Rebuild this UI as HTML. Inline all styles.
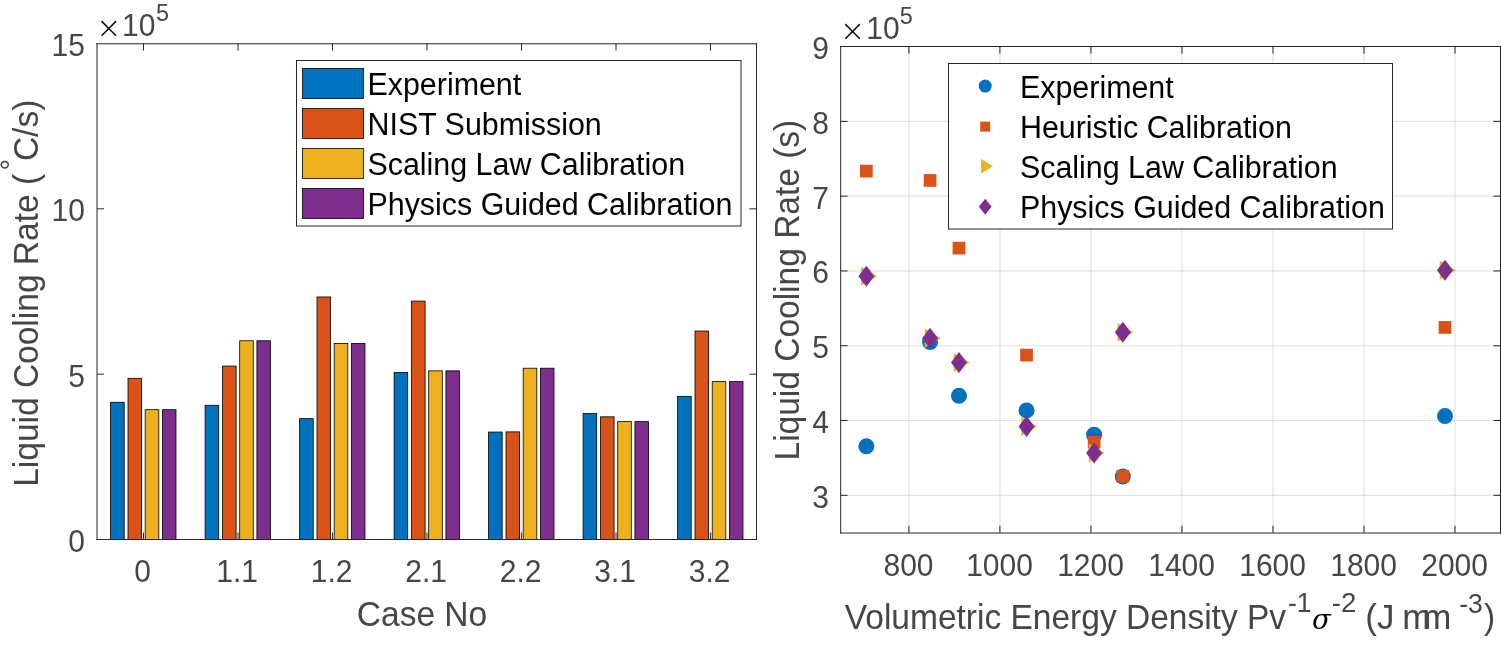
<!DOCTYPE html>
<html><head><meta charset="utf-8"><title>Liquid Cooling Rate</title>
<style>html,body{margin:0;padding:0;background:#fff;}body{width:1501px;height:645px;position:relative;overflow:hidden;}</style>
</head><body>
<svg width="1501" height="645" viewBox="0 0 1501 645" style="position:absolute;left:0;top:0">
<rect x="0" y="0" width="1501" height="645" fill="#fff"/>
<g id="left-bars">
<rect x="110.60" y="402.27" width="13.60" height="137.23" fill="#0072BD" stroke="#000" stroke-width="0.8"/>
<rect x="128.00" y="378.30" width="13.60" height="161.20" fill="#D95319" stroke="#000" stroke-width="0.8"/>
<rect x="145.20" y="409.71" width="13.60" height="129.79" fill="#EDB120" stroke="#000" stroke-width="0.8"/>
<rect x="162.40" y="409.71" width="13.60" height="129.79" fill="#7E2F8E" stroke="#000" stroke-width="0.8"/>
<rect x="205.10" y="405.25" width="13.60" height="134.25" fill="#0072BD" stroke="#000" stroke-width="0.8"/>
<rect x="222.50" y="366.07" width="13.60" height="173.43" fill="#D95319" stroke="#000" stroke-width="0.8"/>
<rect x="239.70" y="340.77" width="13.60" height="198.73" fill="#EDB120" stroke="#000" stroke-width="0.8"/>
<rect x="256.90" y="340.77" width="13.60" height="198.73" fill="#7E2F8E" stroke="#000" stroke-width="0.8"/>
<rect x="299.60" y="418.64" width="13.60" height="120.86" fill="#0072BD" stroke="#000" stroke-width="0.8"/>
<rect x="317.00" y="296.96" width="13.60" height="242.54" fill="#D95319" stroke="#000" stroke-width="0.8"/>
<rect x="334.20" y="343.41" width="13.60" height="196.09" fill="#EDB120" stroke="#000" stroke-width="0.8"/>
<rect x="351.40" y="343.41" width="13.60" height="196.09" fill="#7E2F8E" stroke="#000" stroke-width="0.8"/>
<rect x="394.10" y="372.51" width="13.60" height="166.99" fill="#0072BD" stroke="#000" stroke-width="0.8"/>
<rect x="411.50" y="301.09" width="13.60" height="238.41" fill="#D95319" stroke="#000" stroke-width="0.8"/>
<rect x="428.70" y="370.86" width="13.60" height="168.64" fill="#EDB120" stroke="#000" stroke-width="0.8"/>
<rect x="445.90" y="370.86" width="13.60" height="168.64" fill="#7E2F8E" stroke="#000" stroke-width="0.8"/>
<rect x="488.60" y="432.03" width="13.60" height="107.47" fill="#0072BD" stroke="#000" stroke-width="0.8"/>
<rect x="506.00" y="431.87" width="13.60" height="107.63" fill="#D95319" stroke="#000" stroke-width="0.8"/>
<rect x="523.20" y="368.21" width="13.60" height="171.29" fill="#EDB120" stroke="#000" stroke-width="0.8"/>
<rect x="540.40" y="368.21" width="13.60" height="171.29" fill="#7E2F8E" stroke="#000" stroke-width="0.8"/>
<rect x="583.10" y="413.52" width="13.60" height="125.98" fill="#0072BD" stroke="#000" stroke-width="0.8"/>
<rect x="600.50" y="416.82" width="13.60" height="122.68" fill="#D95319" stroke="#000" stroke-width="0.8"/>
<rect x="617.70" y="421.62" width="13.60" height="117.88" fill="#EDB120" stroke="#000" stroke-width="0.8"/>
<rect x="634.90" y="421.62" width="13.60" height="117.88" fill="#7E2F8E" stroke="#000" stroke-width="0.8"/>
<rect x="677.60" y="396.32" width="13.60" height="143.18" fill="#0072BD" stroke="#000" stroke-width="0.8"/>
<rect x="695.00" y="331.01" width="13.60" height="208.49" fill="#D95319" stroke="#000" stroke-width="0.8"/>
<rect x="712.20" y="381.61" width="13.60" height="157.89" fill="#EDB120" stroke="#000" stroke-width="0.8"/>
<rect x="729.40" y="381.61" width="13.60" height="157.89" fill="#7E2F8E" stroke="#000" stroke-width="0.8"/>
</g>
<g stroke="#262626" stroke-width="1">
<line x1="143.5" y1="539.5" x2="143.5" y2="532.5"/><line x1="143.5" y1="43.5" x2="143.5" y2="50.5"/>
<line x1="238.0" y1="539.5" x2="238.0" y2="532.5"/><line x1="238.0" y1="43.5" x2="238.0" y2="50.5"/>
<line x1="332.5" y1="539.5" x2="332.5" y2="532.5"/><line x1="332.5" y1="43.5" x2="332.5" y2="50.5"/>
<line x1="427.0" y1="539.5" x2="427.0" y2="532.5"/><line x1="427.0" y1="43.5" x2="427.0" y2="50.5"/>
<line x1="521.5" y1="539.5" x2="521.5" y2="532.5"/><line x1="521.5" y1="43.5" x2="521.5" y2="50.5"/>
<line x1="616.0" y1="539.5" x2="616.0" y2="532.5"/><line x1="616.0" y1="43.5" x2="616.0" y2="50.5"/>
<line x1="710.5" y1="539.5" x2="710.5" y2="532.5"/><line x1="710.5" y1="43.5" x2="710.5" y2="50.5"/>
<line x1="97.0" y1="374.17" x2="104.0" y2="374.17"/><line x1="756.5" y1="374.17" x2="749.5" y2="374.17"/>
<line x1="97.0" y1="208.83" x2="104.0" y2="208.83"/><line x1="756.5" y1="208.83" x2="749.5" y2="208.83"/>
</g>
<path d="M97.0 43.8H756.5M97.0 539.5H756.5M97.0 43.5V539.5M756.5 43.5V539.5" stroke="#262626" stroke-width="1" stroke-linecap="square" fill="none"/>
<g font-family="'Liberation Sans', Arial, Helvetica, sans-serif" fill="#464646">
<text x="85" y="551.8" text-anchor="end" font-size="31.26" textLength="16.69" lengthAdjust="spacingAndGlyphs">0</text>
<text x="85" y="386.5" text-anchor="end" font-size="31.26" textLength="16.69" lengthAdjust="spacingAndGlyphs">5</text>
<text x="85" y="221.1" text-anchor="end" font-size="31.26" textLength="33.38" lengthAdjust="spacingAndGlyphs">10</text>
<text x="85" y="55.8" text-anchor="end" font-size="31.26" textLength="33.38" lengthAdjust="spacingAndGlyphs">15</text>
<text x="142.7" y="581.5" text-anchor="middle" font-size="31.26" textLength="16.69" lengthAdjust="spacingAndGlyphs">0</text>
<text x="237.2" y="581.5" text-anchor="middle" font-size="31.26" textLength="41.72" lengthAdjust="spacingAndGlyphs">1.1</text>
<text x="331.7" y="581.5" text-anchor="middle" font-size="31.26" textLength="41.72" lengthAdjust="spacingAndGlyphs">1.2</text>
<text x="426.2" y="581.5" text-anchor="middle" font-size="31.26" textLength="41.72" lengthAdjust="spacingAndGlyphs">2.1</text>
<text x="520.7" y="581.5" text-anchor="middle" font-size="31.26" textLength="41.72" lengthAdjust="spacingAndGlyphs">2.2</text>
<text x="615.2" y="581.5" text-anchor="middle" font-size="31.26" textLength="41.72" lengthAdjust="spacingAndGlyphs">3.1</text>
<text x="709.7" y="581.5" text-anchor="middle" font-size="31.26" textLength="41.72" lengthAdjust="spacingAndGlyphs">3.2</text>
</g>
<text x="96.15" y="37.95" font-family="'DejaVu Sans', 'Liberation Sans', Arial, Helvetica, sans-serif" font-weight="200" font-size="30" fill="#000">×</text>
<text x="122.1" y="35.8" font-family="'Liberation Sans', Arial, Helvetica, sans-serif" fill="#464646" font-size="31.26" textLength="33.38" lengthAdjust="spacingAndGlyphs">10</text>
<text x="156" y="21.2" font-family="'Liberation Sans', Arial, Helvetica, sans-serif" fill="#464646" font-size="24.49" textLength="13.08" lengthAdjust="spacingAndGlyphs">5</text>
<text x="422" y="626" text-anchor="middle" font-family="'Liberation Sans', Arial, Helvetica, sans-serif" fill="#464646" font-size="34.91" textLength="130.34" lengthAdjust="spacingAndGlyphs">Case No</text>
<text transform="translate(38.3,483.8) rotate(-90)" font-family="'Liberation Sans', Arial, Helvetica, sans-serif" fill="#464646" font-size="34.91"><tspan x="-3" font-size="34.91" textLength="312.86" lengthAdjust="spacingAndGlyphs">Liquid Cooling Rate (</tspan><tspan x="313.3" dy="-17" font-size="29">°</tspan><tspan x="322.7" dy="17" font-size="34.91" textLength="61.41" lengthAdjust="spacingAndGlyphs">C/s)</tspan></text>
<rect x="296.5" y="60.5" width="444.5" height="165.5" fill="#fff" stroke="#262626" stroke-width="1"/>
<rect x="302.5" y="68.5" width="61" height="30" fill="#0072BD" stroke="#000" stroke-width="0.8"/>
<text x="367.5" y="94.6" font-family="'Liberation Sans', Arial, Helvetica, sans-serif" fill="#000" font-size="31.68" textLength="153.72" lengthAdjust="spacingAndGlyphs">Experiment</text>
<rect x="302.5" y="108.5" width="61" height="30" fill="#D95319" stroke="#000" stroke-width="0.8"/>
<text x="367.5" y="134.6" font-family="'Liberation Sans', Arial, Helvetica, sans-serif" fill="#000" font-size="31.68" textLength="234.22" lengthAdjust="spacingAndGlyphs">NIST Submission</text>
<rect x="302.5" y="148.5" width="61" height="30" fill="#EDB120" stroke="#000" stroke-width="0.8"/>
<text x="367.5" y="174.6" font-family="'Liberation Sans', Arial, Helvetica, sans-serif" fill="#000" font-size="31.68" textLength="317.59" lengthAdjust="spacingAndGlyphs">Scaling Law Calibration</text>
<rect x="302.5" y="188.5" width="61" height="30" fill="#7E2F8E" stroke="#000" stroke-width="0.8"/>
<text x="367.5" y="214.6" font-family="'Liberation Sans', Arial, Helvetica, sans-serif" fill="#000" font-size="31.68" textLength="364.88" lengthAdjust="spacingAndGlyphs">Physics Guided Calibration</text>
<g stroke="#262626" stroke-opacity="0.125" stroke-width="1.2">
<line x1="908.91" y1="46.6" x2="908.91" y2="532.7"/>
<line x1="999.92" y1="46.6" x2="999.92" y2="532.7"/>
<line x1="1090.94" y1="46.6" x2="1090.94" y2="532.7"/>
<line x1="1181.95" y1="46.6" x2="1181.95" y2="532.7"/>
<line x1="1272.97" y1="46.6" x2="1272.97" y2="532.7"/>
<line x1="1363.98" y1="46.6" x2="1363.98" y2="532.7"/>
<line x1="1454.99" y1="46.6" x2="1454.99" y2="532.7"/>
<line x1="840.65" y1="495.31" x2="1500.5" y2="495.31"/>
<line x1="840.65" y1="420.52" x2="1500.5" y2="420.52"/>
<line x1="840.65" y1="345.74" x2="1500.5" y2="345.74"/>
<line x1="840.65" y1="270.95" x2="1500.5" y2="270.95"/>
<line x1="840.65" y1="196.17" x2="1500.5" y2="196.17"/>
<line x1="840.65" y1="121.38" x2="1500.5" y2="121.38"/>
</g>
<g id="right-data">
<circle cx="866.36" cy="446.32" r="8.00" fill="#0072BD"/>
<circle cx="930.07" cy="342.00" r="8.00" fill="#0072BD"/>
<circle cx="958.97" cy="395.84" r="8.00" fill="#0072BD"/>
<circle cx="1026.55" cy="410.43" r="8.00" fill="#0072BD"/>
<circle cx="1094.12" cy="434.73" r="8.00" fill="#0072BD"/>
<circle cx="1122.79" cy="476.61" r="8.00" fill="#0072BD"/>
<circle cx="1444.98" cy="416.04" r="8.00" fill="#0072BD"/>
<rect x="860.01" y="164.77" width="12.70" height="12.70" fill="#D95319"/>
<rect x="923.72" y="174.11" width="12.70" height="12.70" fill="#D95319"/>
<rect x="952.62" y="241.79" width="12.70" height="12.70" fill="#D95319"/>
<rect x="1020.20" y="348.74" width="12.70" height="12.70" fill="#D95319"/>
<rect x="1087.77" y="435.86" width="12.70" height="12.70" fill="#D95319"/>
<rect x="1116.44" y="469.89" width="12.70" height="12.70" fill="#D95319"/>
<rect x="1438.63" y="321.07" width="12.70" height="12.70" fill="#D95319"/>
<polygon points="861.06,266.79 876.96,276.19 861.06,285.59" fill="#EDB120"/>
<polygon points="924.77,328.86 940.67,338.26 924.77,347.66" fill="#EDB120"/>
<polygon points="953.67,353.17 969.57,362.57 953.67,371.97" fill="#EDB120"/>
<polygon points="1021.25,417.11 1037.15,426.51 1021.25,435.91" fill="#EDB120"/>
<polygon points="1088.82,443.65 1104.72,453.05 1088.82,462.45" fill="#EDB120"/>
<polygon points="1117.49,322.88 1133.39,332.28 1117.49,341.68" fill="#EDB120"/>
<polygon points="1439.68,260.81 1455.58,270.21 1439.68,279.61" fill="#EDB120"/>
<polygon points="866.36,265.69 874.36,276.19 866.36,286.69 858.36,276.19" fill="#7E2F8E"/>
<polygon points="930.07,327.76 938.07,338.26 930.07,348.76 922.07,338.26" fill="#7E2F8E"/>
<polygon points="958.97,352.07 966.97,362.57 958.97,373.07 950.97,362.57" fill="#7E2F8E"/>
<polygon points="1026.55,416.01 1034.55,426.51 1026.55,437.01 1018.55,426.51" fill="#7E2F8E"/>
<polygon points="1094.12,442.55 1102.12,453.05 1094.12,463.55 1086.12,453.05" fill="#7E2F8E"/>
<polygon points="1122.79,321.78 1130.79,332.28 1122.79,342.78 1114.79,332.28" fill="#7E2F8E"/>
<polygon points="1444.98,259.71 1452.98,270.21 1444.98,280.71 1436.98,270.21" fill="#7E2F8E"/>
</g>
<g stroke="#262626" stroke-width="1">
<line x1="908.91" y1="532.7" x2="908.91" y2="525.7"/><line x1="908.91" y1="46.6" x2="908.91" y2="53.6"/>
<line x1="999.92" y1="532.7" x2="999.92" y2="525.7"/><line x1="999.92" y1="46.6" x2="999.92" y2="53.6"/>
<line x1="1090.94" y1="532.7" x2="1090.94" y2="525.7"/><line x1="1090.94" y1="46.6" x2="1090.94" y2="53.6"/>
<line x1="1181.95" y1="532.7" x2="1181.95" y2="525.7"/><line x1="1181.95" y1="46.6" x2="1181.95" y2="53.6"/>
<line x1="1272.97" y1="532.7" x2="1272.97" y2="525.7"/><line x1="1272.97" y1="46.6" x2="1272.97" y2="53.6"/>
<line x1="1363.98" y1="532.7" x2="1363.98" y2="525.7"/><line x1="1363.98" y1="46.6" x2="1363.98" y2="53.6"/>
<line x1="1454.99" y1="532.7" x2="1454.99" y2="525.7"/><line x1="1454.99" y1="46.6" x2="1454.99" y2="53.6"/>
<line x1="840.65" y1="495.31" x2="847.65" y2="495.31"/><line x1="1500.5" y1="495.31" x2="1493.5" y2="495.31"/>
<line x1="840.65" y1="420.52" x2="847.65" y2="420.52"/><line x1="1500.5" y1="420.52" x2="1493.5" y2="420.52"/>
<line x1="840.65" y1="345.74" x2="847.65" y2="345.74"/><line x1="1500.5" y1="345.74" x2="1493.5" y2="345.74"/>
<line x1="840.65" y1="270.95" x2="847.65" y2="270.95"/><line x1="1500.5" y1="270.95" x2="1493.5" y2="270.95"/>
<line x1="840.65" y1="196.17" x2="847.65" y2="196.17"/><line x1="1500.5" y1="196.17" x2="1493.5" y2="196.17"/>
<line x1="840.65" y1="121.38" x2="847.65" y2="121.38"/><line x1="1500.5" y1="121.38" x2="1493.5" y2="121.38"/>
</g>
<path d="M840.7 46.5H1500.5M840.7 533.0H1500.5M840.7 46.5V533.0M1500.5 46.5V533.0" stroke="#262626" stroke-width="1" stroke-linecap="square" fill="none"/>
<g font-family="'Liberation Sans', Arial, Helvetica, sans-serif" fill="#464646">
<text x="829" y="507.6" text-anchor="end" font-size="31.26" textLength="16.69" lengthAdjust="spacingAndGlyphs">3</text>
<text x="829" y="432.8" text-anchor="end" font-size="31.26" textLength="16.69" lengthAdjust="spacingAndGlyphs">4</text>
<text x="829" y="358.0" text-anchor="end" font-size="31.26" textLength="16.69" lengthAdjust="spacingAndGlyphs">5</text>
<text x="829" y="283.3" text-anchor="end" font-size="31.26" textLength="16.69" lengthAdjust="spacingAndGlyphs">6</text>
<text x="829" y="208.5" text-anchor="end" font-size="31.26" textLength="16.69" lengthAdjust="spacingAndGlyphs">7</text>
<text x="829" y="133.7" text-anchor="end" font-size="31.26" textLength="16.69" lengthAdjust="spacingAndGlyphs">8</text>
<text x="829" y="58.9" text-anchor="end" font-size="31.26" textLength="16.69" lengthAdjust="spacingAndGlyphs">9</text>
<text x="908.5" y="575.5" text-anchor="middle" font-size="31.26" textLength="50.06" lengthAdjust="spacingAndGlyphs">800</text>
<text x="999.5" y="575.5" text-anchor="middle" font-size="31.26" textLength="66.75" lengthAdjust="spacingAndGlyphs">1000</text>
<text x="1090.5" y="575.5" text-anchor="middle" font-size="31.26" textLength="66.75" lengthAdjust="spacingAndGlyphs">1200</text>
<text x="1181.6" y="575.5" text-anchor="middle" font-size="31.26" textLength="66.75" lengthAdjust="spacingAndGlyphs">1400</text>
<text x="1272.6" y="575.5" text-anchor="middle" font-size="31.26" textLength="66.75" lengthAdjust="spacingAndGlyphs">1600</text>
<text x="1363.6" y="575.5" text-anchor="middle" font-size="31.26" textLength="66.75" lengthAdjust="spacingAndGlyphs">1800</text>
<text x="1454.6" y="575.5" text-anchor="middle" font-size="31.26" textLength="66.75" lengthAdjust="spacingAndGlyphs">2000</text>
</g>
<text x="840" y="40.75" font-family="'DejaVu Sans', 'Liberation Sans', Arial, Helvetica, sans-serif" font-weight="200" font-size="30" fill="#000">×</text>
<text x="866.2" y="38.9" font-family="'Liberation Sans', Arial, Helvetica, sans-serif" fill="#464646" font-size="31.26" textLength="33.38" lengthAdjust="spacingAndGlyphs">10</text>
<text x="899.8" y="23.6" font-family="'Liberation Sans', Arial, Helvetica, sans-serif" fill="#464646" font-size="24.49" textLength="13.08" lengthAdjust="spacingAndGlyphs">5</text>
<text transform="translate(799.1,457.5) rotate(-90)" font-family="'Liberation Sans', Arial, Helvetica, sans-serif" fill="#464646"><tspan x="-3" font-size="34.91" textLength="340.77" lengthAdjust="spacingAndGlyphs">Liquid Cooling Rate (s)</tspan></text>
<text y="628.6" font-family="'Liberation Sans', Arial, Helvetica, sans-serif" fill="#464646" font-size="34.91"><tspan x="844.8" font-size="34.91" textLength="441.27" lengthAdjust="spacingAndGlyphs">Volumetric Energy Density Pv</tspan><tspan x="1288" y="612.3" font-size="27.61" textLength="23.58" lengthAdjust="spacingAndGlyphs">-1</tspan><tspan x="1312" y="628.6" fill="#000" font-style="italic" font-family="'DejaVu Serif', serif" font-size="27.5">σ</tspan><tspan x="1331.8" y="612.3" font-size="27.61">-2 </tspan><tspan x="1365.3" y="628.6">(J </tspan><tspan x="1402.3" letter-spacing="-9">mm </tspan><tspan x="1459.3" y="612.6" font-size="27.61" textLength="23.58" lengthAdjust="spacingAndGlyphs">-3</tspan><tspan x="1484" y="628.6" font-size="34.91" textLength="11.16" lengthAdjust="spacingAndGlyphs">)</tspan></text>
<rect x="948.5" y="63.5" width="444" height="165.5" fill="#fff" stroke="#262626" stroke-width="1"/>
<circle cx="985.20" cy="86.10" r="6.50" fill="#0072BD"/>
<rect x="980.20" y="121.60" width="10.00" height="10.00" fill="#D95319"/>
<polygon points="981.1,158.9 993,166.2 981.1,173.6" fill="#EDB120"/>
<polygon points="985.20,198.80 991.55,206.80 985.20,214.80 978.85,206.80" fill="#7E2F8E"/>
<text x="1020" y="97.9" font-family="'Liberation Sans', Arial, Helvetica, sans-serif" fill="#000" font-size="31.68" textLength="153.72" lengthAdjust="spacingAndGlyphs">Experiment</text>
<text x="1020" y="137.9" font-family="'Liberation Sans', Arial, Helvetica, sans-serif" fill="#000" font-size="31.68" textLength="271.94" lengthAdjust="spacingAndGlyphs">Heuristic Calibration</text>
<text x="1020" y="177.9" font-family="'Liberation Sans', Arial, Helvetica, sans-serif" fill="#000" font-size="31.68" textLength="317.59" lengthAdjust="spacingAndGlyphs">Scaling Law Calibration</text>
<text x="1020" y="217.9" font-family="'Liberation Sans', Arial, Helvetica, sans-serif" fill="#000" font-size="31.68" textLength="364.88" lengthAdjust="spacingAndGlyphs">Physics Guided Calibration</text>
</svg>
</body></html>
